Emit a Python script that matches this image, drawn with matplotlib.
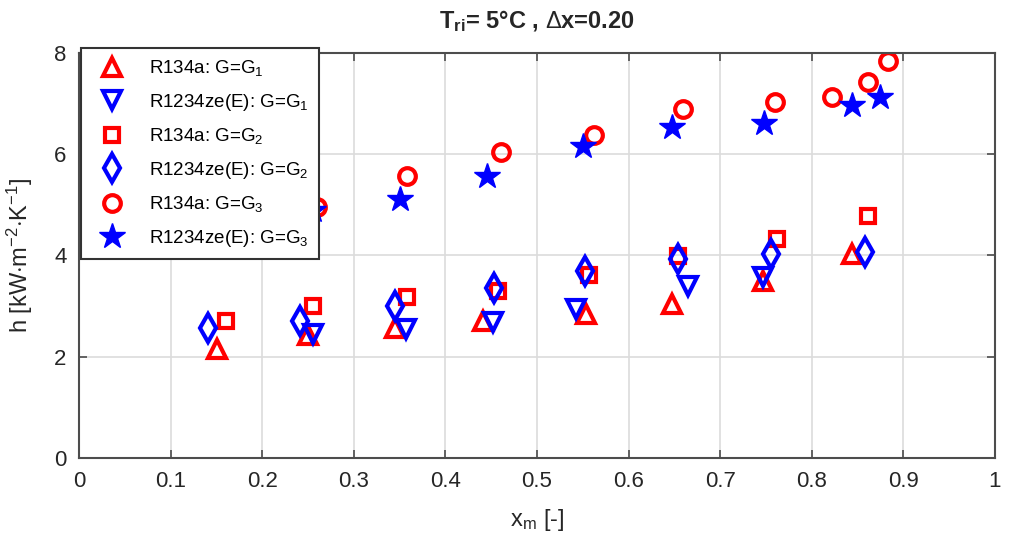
import matplotlib
matplotlib.use('Agg')
import matplotlib.pyplot as plt

plt.rcParams['font.family'] = ['Liberation Sans', 'DejaVu Sans']
plt.rcParams['mathtext.fontset'] = 'custom'
plt.rcParams['mathtext.rm'] = 'Liberation Sans'
plt.rcParams['mathtext.it'] = 'Liberation Sans'
plt.rcParams['mathtext.bf'] = 'Liberation Sans:bold'

# R134a, G=G1 (triangles up)
x_r134a_g1 = [0.151, 0.250, 0.345, 0.441, 0.554, 0.647, 0.747, 0.844]
h_r134a_g1 = [2.16, 2.43, 2.57, 2.70, 2.84, 3.04, 3.50, 4.03]
# R1234ze(E), G=G1 (triangles down)
x_ze_g1 = [0.255, 0.357, 0.452, 0.543, 0.665, 0.747]
h_ze_g1 = [2.45, 2.55, 2.68, 2.94, 3.40, 3.57]
# R134a, G=G2 (squares)
x_r134a_g2 = [0.160, 0.255, 0.358, 0.457, 0.557, 0.654, 0.762, 0.861]
h_r134a_g2 = [2.70, 3.01, 3.18, 3.29, 3.62, 3.99, 4.32, 4.77]
# R1234ze(E), G=G2 (diamonds)
x_ze_g2 = [0.141, 0.241, 0.345, 0.453, 0.552, 0.654, 0.755, 0.858]
h_ze_g2 = [2.57, 2.70, 3.00, 3.36, 3.70, 3.93, 4.03, 4.06]
# R134a, G=G3 (circles)
x_r134a_g3 = [0.260, 0.358, 0.461, 0.562, 0.659, 0.760, 0.822, 0.861, 0.883]
h_r134a_g3 = [4.95, 5.57, 6.04, 6.38, 6.89, 7.02, 7.12, 7.42, 7.83]
# R1234ze(E), G=G3 (stars)
x_ze_g3 = [0.255, 0.350, 0.446, 0.550, 0.647, 0.748, 0.844, 0.874]
h_ze_g3 = [4.90, 5.11, 5.56, 6.17, 6.53, 6.61, 6.98, 7.12]

labels = ['R134a: G=G$_1$', 'R1234ze(E): G=G$_1$',
          'R134a: G=G$_2$', 'R1234ze(E): G=G$_2$',
          'R134a: G=G$_3$', 'R1234ze(E): G=G$_3$']

fig = plt.figure(figsize=(10.11, 5.39), dpi=100)
ax = fig.add_axes([0.0781, 0.150, 0.906, 0.752])

red = '#ff0000'
blue = '#0000ff'
ax.plot(x_r134a_g1, h_r134a_g1, '^', ms=13, mfc='none', mec=red, mew=3, label=labels[0])
ax.plot(x_ze_g1, h_ze_g1, 'v', ms=13, mfc='none', mec=blue, mew=3, label=labels[1])
ax.plot(x_r134a_g2, h_r134a_g2, 's', ms=9.5, mfc='none', mec=red, mew=3, label=labels[2])
ax.plot(x_ze_g2, h_ze_g2, 'd', ms=14, mfc='none', mec=blue, mew=3, label=labels[3])
ax.plot(x_r134a_g3, h_r134a_g3, 'o', ms=12, mfc='none', mec=red, mew=3, label=labels[4])
ax.plot(x_ze_g3, h_ze_g3, '*', ms=19, mfc=blue, mec=blue, mew=1, label=labels[5])

ax.set_xlim(0, 1)
ax.set_ylim(0, 8)
ax.set_xticks([0, 0.1, 0.2, 0.3, 0.4, 0.5, 0.6, 0.7, 0.8, 0.9, 1])
ax.set_xticklabels(['0', '0.1', '0.2', '0.3', '0.4', '0.5', '0.6', '0.7', '0.8', '0.9', '1'])
ax.set_yticks([0, 2, 4, 6, 8])
ax.grid(True, color='#dcdcdc', lw=1.2)
ax.set_axisbelow(True)
for s in ax.spines.values():
    s.set_color('#4d4d4d')
    s.set_linewidth(1.5)
ax.tick_params(direction='in', length=6, width=1.2, colors='#4d4d4d',
               labelcolor='#262626', labelsize=16, top=True, right=True, pad=9)

ax.set_xlabel('x$_m$ [-]', fontsize=17, color='#262626', labelpad=11)
ax.set_ylabel('h [kW$\\cdot$m$^{-2}$$\\cdot$K$^{-1}$]', fontsize=17, color='#262626', labelpad=14)
ax.set_title('T$_{\\mathbf{ri}}$= 5°C , $\\Delta$x=0.20', fontsize=17, fontweight='bold',
             color='#262626', pad=18)

leg = ax.legend(loc='upper left', bbox_to_anchor=(81 / 1011, 1 - 48 / 539),
                bbox_transform=fig.transFigure, fontsize=13.5, frameon=True,
                fancybox=False, edgecolor='#333333', framealpha=1,
                labelspacing=0.72, handletextpad=0.9, borderpad=0.55,
                handlelength=2.2, borderaxespad=0)
leg.get_frame().set_linewidth(1.5)

fig.savefig('out.png', dpi=100)
